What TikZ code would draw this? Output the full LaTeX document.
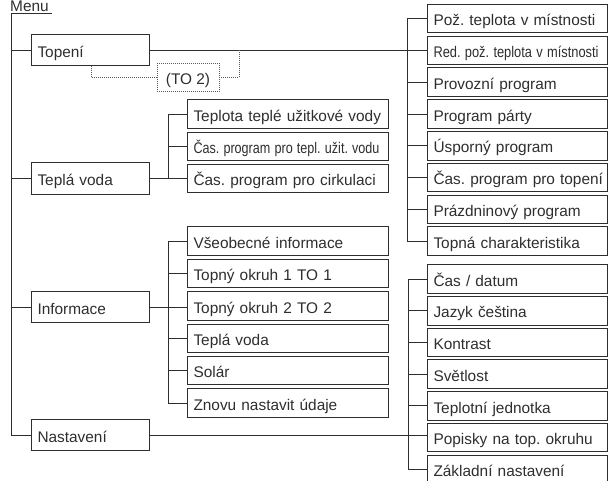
\documentclass[tikz,border=0pt]{standalone}
\usepackage{fontspec}
\setmainfont{Liberation Sans}
\usepackage{graphicx}
\usetikzlibrary{positioning}
\definecolor{menuink}{HTML}{2E2E2E}
\newcommand{\squeeze}[2]{\resizebox{#1}{\height}{#2}}
\frenchspacing

\begin{document}
\begin{tikzpicture}
        [x=1pt, y=-1pt,
         font=\fontsize{15.4}{18}\selectfont,
         mainsty/.style={rectangle,
                         draw=menuink,
                         line width=0.8pt,
                         text=menuink,
                         minimum height=31.5pt,
                         text width=105pt,
                         inner xsep=6.5pt,
                         inner ysep=0pt,
                         align=left,
                         text height=14.5pt,
                         text depth=0pt},
         substy/.style={mainsty, minimum height=28.5pt, text width=188pt},
         itemsty/.style={mainsty, minimum height=28.5pt, text width=167pt},
         optsty/.style={rectangle,
                        draw=menuink!80,
                        line width=0.6pt,
                        dash pattern=on 1pt off 1pt,
                        text=menuink,
                        minimum width=62pt,
                        minimum height=28.5pt,
                        inner sep=0pt,
                        text height=14.5pt,
                        text depth=0pt},
         link/.style={draw=menuink, line width=0.8pt},
         optlink/.style={draw=menuink!80, line width=0.6pt, dash pattern=on 1pt off 1pt}]

        \useasboundingbox (0,0) rectangle (609,480);

        \node[anchor=base west, inner sep=0pt, text=menuink] (menu) at (10,11) {Menu};
        \coordinate (menu root) at (11,13);
        \coordinate (menu tip) at (52,13);

        % main menu
        \node[mainsty] (topeni) at (90,50) {Topení};
        \node[mainsty] (teplavoda) at (90,178.5) {Teplá voda};
        \node[mainsty] (informace) at (90,307) {Informace};
        \node[mainsty] (nastaveni) at (90,435) {Nastavení};
        \node[optsty] (to2) at (188,77.5) {(TO 2)};

        % hot water
        \node[substy] (teplota) at (287.5,114) {Teplota teplé užitkové vody};
        \node[substy, below=3pt of teplota] (tuv prog) {\squeeze{186pt}{Čas. program pro tepl. užit. vodu}};
        \node[substy, below=3pt of tuv prog] (cirk prog) {Čas. program pro cirkulaci};

        % information
        \node[substy] (vseob) at (287.5,241) {Všeobecné informace};
        \node[substy, below=3.1pt of vseob] (to1 info) {Topný okruh 1 TO 1};
        \node[substy, below=3.1pt of to1 info] (to2 info) {Topný okruh 2 TO 2};
        \node[substy, below=3.1pt of to2 info] (tuv info) {Teplá voda};
        \node[substy, below=3.1pt of tuv info] (solar info) {Solár};
        \node[substy, below=3.1pt of solar info] (reset) {Znovu nastavit údaje};

        % heating
        \node[itemsty] (poz) at (517,18.5) {Pož. teplota v místnosti};
        \node[itemsty, below=2.5pt of poz] (red) {\squeeze{165pt}{Red. pož. teplota v místnosti}};
        \node[itemsty, below=2.5pt of red] (provoz) {Provozní program};
        \node[itemsty, below=2.5pt of provoz] (party) {Program párty};
        \node[itemsty, below=2.5pt of party] (uspor) {Úsporný program};
        \node[itemsty, below=2.5pt of uspor] (top prog) {\mbox{Čas. program pro topení}};
        \node[itemsty, below=2.5pt of top prog] (prazdn) {Prázdninový program};
        \node[itemsty, below=2.5pt of prazdn] (charakt) {Topná charakteristika};

        % settings
        \node[itemsty] (cas) at (517,279) {Čas / datum};
        \node[itemsty, below=2.4pt of cas] (jazyk) {Jazyk čeština};
        \node[itemsty, below=2.4pt of jazyk] (kontrast) {Kontrast};
        \node[itemsty, below=2.4pt of kontrast] (svetlost) {Světlost};
        \node[itemsty, below=2.4pt of svetlost] (jednotka) {Teplotní jednotka};
        \node[itemsty, below=2.4pt of jednotka] (popisky) {Popisky na top. okruhu};
        \node[itemsty, below=2.4pt of popisky] (zaklad) {Základní nastavení};

        % tree
        \draw[link] (menu tip) -- (menu root) |- (nastaveni.west);
        \draw[link] (topeni.west) -- (topeni.west -| menu root)
                    (teplavoda.west) -- (teplavoda.west -| menu root)
                    (informace.west) -- (informace.west -| menu root);

        \draw[link] (topeni.east) -- (topeni.east -| red.west);
        \draw[link] (poz.west) -- ++(-19,0) |- (charakt.west);
        \draw[link] (provoz.west) -- ++(-19,0)
                    (party.west) -- ++(-19,0)
                    (uspor.west) -- ++(-19,0)
                    (top prog.west) -- ++(-19,0)
                    (prazdn.west) -- ++(-19,0);
        \draw[optlink] (topeni.south -| 91,0) |- (to2.west);
        \draw[optlink] (to2.east) -| (topeni.east -| 239,0);

        \draw[link] (teplavoda.east) -- (teplavoda.east -| cirk prog.west);
        \draw[link] (teplota.west) -- ++(-18.5,0) |- (cirk prog.west);
        \draw[link] (tuv prog.west) -- ++(-18.5,0);

        \draw[link] (informace.east) -- (informace.east -| to2 info.west);
        \draw[link] (vseob.west) -- ++(-18.5,0) |- (reset.west);
        \draw[link] (to1 info.west) -- ++(-18.5,0)
                    (tuv info.west) -- ++(-18.5,0)
                    (solar info.west) -- ++(-18.5,0);

        \draw[link] (nastaveni.east) -- (nastaveni.east -| popisky.west);
        \draw[link] (cas.west) -- ++(-18.5,0) |- (zaklad.west);
        \draw[link] (jazyk.west) -- ++(-18.5,0)
                    (kontrast.west) -- ++(-18.5,0)
                    (svetlost.west) -- ++(-18.5,0)
                    (jednotka.west) -- ++(-18.5,0);
\end{tikzpicture}
\end{document}
